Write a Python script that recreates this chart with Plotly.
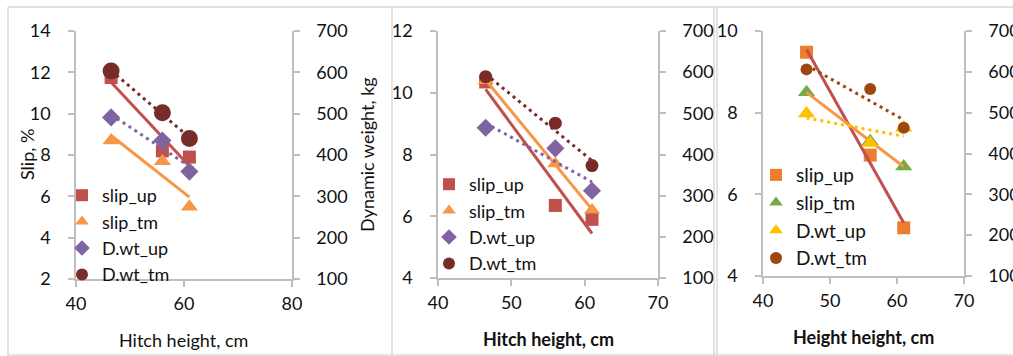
import numpy as np
import plotly.graph_objects as go

W, H = 1013, 356

# ---------------- data ----------------
hitch_height = [46.5, 56, 61]

p1_slip_up = [11.75, 8.2, 7.9]
p1_slip_tm = [8.7, 7.7, 5.5]
p1_dwt_up = [491, 435, 360]
p1_dwt_tm = [603, 502, 440]

p2_slip_up = [10.35, 6.35, 5.9]
p2_slip_tm = [10.4, 7.7, 6.2]
p2_dwt_up = [465, 415, 312]
p2_dwt_tm = [589, 476, 373]

p3_slip_up = [9.48, 6.96, 5.18]
p3_slip_tm = [8.5, 7.3, 6.68]
p3_dwt_up = [498, 426, 463]
p3_dwt_tm = [606, 558, 463]

series_names = ["slip_up", "slip_tm", "D.wt_up", "D.wt_tm"]
x_titles = ["Hitch height, cm", "Hitch height, cm", "Height height, cm"]
left_title = "Slip, %"
right_title = "Dynamic weight, kg"

FONT = "Lato, 'Open Sans', sans-serif"
TXT = "#111111"
AX = "#BFBFBF"


def fx(px):
    return px / W


def fy(py):
    return 1 - py / H


fig = go.Figure()

panels = [
    dict(data=[p1_slip_up, p1_slip_tm, p1_dwt_up, p1_dwt_tm],
         mcol=["#C0504D", "#F79646", "#8064A2", "#772C2A"],
         tcol=["#C0504D", "#F79646", "#8064A2", "#772C2A"],
         sym=["square", "triangle-up", "diamond", "circle"],
         size=[13, 15, 14, 17],
         xa="x", ya="y", ya2="y2", legend="legend"),
    dict(data=[p2_slip_up, p2_slip_tm, p2_dwt_up, p2_dwt_tm],
         mcol=["#C0504D", "#F79646", "#8064A2", "#772C2A"],
         tcol=["#C0504D", "#F79646", "#8064A2", "#772C2A"],
         sym=["square", "triangle-up", "diamond", "circle"],
         size=[13, 14, 14, 13],
         xa="x2", ya="y3", ya2="y4", legend="legend2"),
    dict(data=[p3_slip_up, p3_slip_tm, p3_dwt_up, p3_dwt_tm],
         mcol=["#ED7D31", "#70AD47", "#FFC000", "#9E480E"],
         tcol=["#C0504D", "#F79646", "#FFC000", "#9E480E"],
         sym=["square", "triangle-up", "triangle-up", "circle"],
         size=[13, 15, 15, 12],
         xa="x3", ya="y5", ya2="y6", legend="legend3"),
]

for pi, p in enumerate(panels):
    # markers
    for i, (vals, name) in enumerate(zip(p["data"], series_names)):
        yref = p["ya"] if i < 2 else p["ya2"]
        fig.add_trace(go.Scatter(
            x=hitch_height, y=vals, mode="markers", name=name,
            marker=dict(symbol=p["sym"][i], size=p["size"][i], color=p["mcol"][i],
                        line=dict(width=0)),
            xaxis=p["xa"], yaxis=yref, legend=p["legend"],
        ))
    # linear trend lines (least squares on the data)
    for i, vals in enumerate(p["data"]):
        yref = p["ya"] if i < 2 else p["ya2"]
        k, b = np.polyfit(hitch_height, vals, 1)
        xs = [min(hitch_height), max(hitch_height)]
        ys = [k * v + b for v in xs]
        fig.add_trace(go.Scatter(
            x=xs, y=ys, mode="lines", showlegend=False, hoverinfo="skip",
            line=dict(color=p["tcol"][i], width=3,
                      dash="solid" if i < 2 else "3px,4px"),
            xaxis=p["xa"], yaxis=yref,
        ))

axis_common = dict(showline=True, linecolor=AX, linewidth=1.5, ticks="outside",
                   ticklen=6, tickcolor=AX, tickwidth=1.5, showgrid=False, zeroline=False,
                   automargin=False,
                   tickfont=dict(family=FONT, size=18, color=TXT))

# plot area boxes in pixel coordinates: (left, right, top, bottom)
boxes = [(76, 292, 31, 279), (438, 658, 31, 278), (763, 964, 31, 276)]
xranges = [[40, 80], [40, 70], [40, 70]]
xdticks = [20, 10, 10]
yranges = [[2, 14], [4, 12], [4, 10]]

layout = dict(width=W, height=H, margin=dict(l=0, r=0, t=0, b=0, autoexpand=False),
              template="none",
              paper_bgcolor="white", plot_bgcolor="rgba(0,0,0,0)", showlegend=True)

for k, (l, r, t, b) in enumerate(boxes):
    xname = "xaxis" if k == 0 else f"xaxis{k+1}"
    yn1 = 2 * k + 1
    yn2 = 2 * k + 2
    yname1 = "yaxis" if yn1 == 1 else f"yaxis{yn1}"
    yname2 = f"yaxis{yn2}"
    xa = "x" if k == 0 else f"x{k+1}"
    ya1 = "y" if yn1 == 1 else f"y{yn1}"
    layout[xname] = dict(axis_common, domain=[fx(l), fx(r)], range=xranges[k],
                         dtick=xdticks[k], tick0=40, anchor=ya1, ticklabelstandoff=2)
    layout[yname1] = dict(axis_common, domain=[fy(b), fy(t)], range=yranges[k],
                          dtick=2, anchor=xa, ticklabelstandoff=14)
    layout[yname2] = dict(axis_common, domain=[fy(b), fy(t)], range=[100, 700],
                          dtick=100, anchor=xa, overlaying=ya1, side="right",
                          ticklabelstandoff=13)

# (left px, top px, font size)
legend_pos = [(62, 177, 18), (429, 166, 18), (756, 156, 19)]
for k, (lx, ly, fs) in enumerate(legend_pos):
    name = "legend" if k == 0 else f"legend{k+1}"
    layout[name] = dict(x=fx(lx), y=fy(ly), xanchor="left", yanchor="top",
                        bgcolor="rgba(0,0,0,0)", borderwidth=0,
                        font=dict(family=FONT, size=fs, color=TXT),
                        tracegroupgap=0, itemwidth=30, itemsizing="constant")

fig.update_layout(**layout)

annotations = [
    dict(text=left_title, x=fx(27), y=fy(155), textangle=-90, font_size=18),
    dict(text=right_title, x=fx(367), y=fy(155), textangle=-90, font_size=18),
    dict(text=x_titles[0], x=fx(183), y=fy(340), font_size=18),
    dict(text="<b>" + x_titles[1] + "</b>", x=fx(548), y=fy(339), font_size=18),
    dict(text="<b>" + x_titles[2] + "</b>", x=fx(863), y=fy(337), font_size=18),
]
for a in annotations:
    fig.add_annotation(xref="paper", yref="paper", showarrow=False,
                       xanchor="center", yanchor="middle", text=a["text"], x=a["x"], y=a["y"],
                       textangle=a.get("textangle", 0),
                       font=dict(family=FONT, size=a["font_size"], color=TXT))

# panel borders
BORDER = "#D9D9D9"
shapes = [
    dict(x0=fx(8), x1=1, y0=fy(7), y1=fy(7)),
    dict(x0=fx(8), x1=1, y0=fy(355), y1=fy(355)),
    dict(x0=fx(8), x1=fx(8), y0=fy(7), y1=fy(356)),
    dict(x0=fx(392), x1=fx(392), y0=fy(7), y1=fy(356)),
    dict(x0=fx(714), x1=fx(714), y0=fy(7), y1=fy(356)),
    dict(x0=fx(717), x1=fx(717), y0=fy(7), y1=fy(356)),
]
for s in shapes:
    fig.add_shape(type="line", xref="paper", yref="paper", layer="below",
                  line=dict(color=BORDER, width=1.5), **s)

fig.write_html("out.html")
